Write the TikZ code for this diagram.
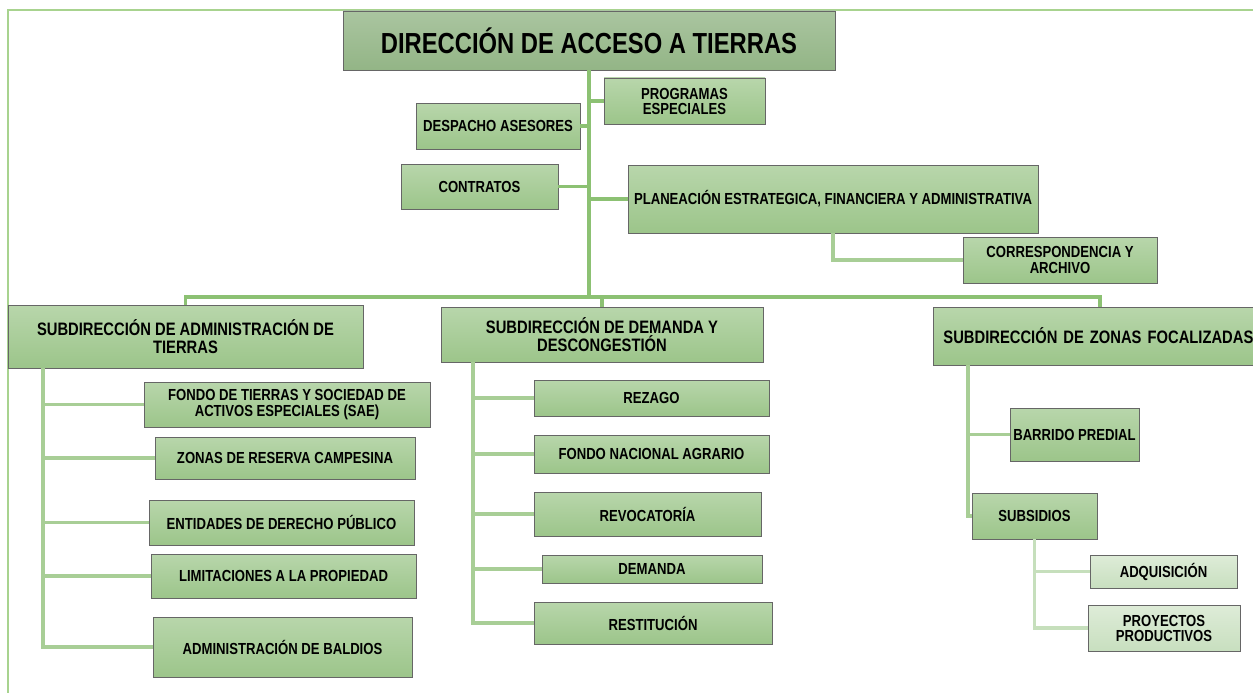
\documentclass[tikz,border=0pt]{standalone}
\usepackage{fontspec}
\setmainfont{Liberation Sans}[FakeStretch=0.82]
\usetikzlibrary{calc}
\definecolor{boxtop}{RGB}{184,214,171}
\definecolor{boxbot}{RGB}{156,197,138}
\definecolor{maintop}{RGB}{170,197,160}
\definecolor{mainbot}{RGB}{147,181,134}
\definecolor{lighttop}{RGB}{222,236,216}
\definecolor{lightbot}{RGB}{200,223,191}
\definecolor{framecol}{RGB}{168,211,143}
\definecolor{trunkcol}{RGB}{140,193,115}
\definecolor{linkcol}{RGB}{168,206,150}
\definecolor{paledlink}{RGB}{198,223,188}
\newcommand\fontbig{\fontsize{29}{30}\selectfont\bfseries}
\newcommand\fontsubd{\fontsize{18}{18}\selectfont\bfseries}
\newcommand\fontsm{\fontsize{16}{16}\selectfont\bfseries}
\newcommand\fontsmtight{\fontsize{16}{15}\selectfont\bfseries}
\begin{document}
\begin{tikzpicture}[x=1pt,y=-1pt,
  box/.style={draw=black!60, line width=0.9pt, top color=boxtop, bottom color=boxbot,
              inner sep=0pt, align=center, font=\fontsm},
  mainbox/.style={box, top color=maintop, bottom color=mainbot, font=\fontbig},
  subbox/.style={box, font=\fontsubd},
  lightbox/.style={box, top color=lighttop, bottom color=lightbot},
  trunk/.style={draw=trunkcol, line width=3.2pt},
  link/.style={draw=linkcol, line width=3.4pt},
  palelink/.style={draw=paledlink, line width=3.4pt},
  frameline/.style={draw=framecol, line width=2.6pt}]
\useasboundingbox (0,0) rectangle (1253,693);
\fill[white] (0,0) rectangle (1253,693);
% frame
\draw[frameline] (1260,10) -- (8,10) -- (8,700);

% helper coordinates
\coordinate (bus) at (589,297);
\coordinate (zdrop) at (1100,307);
\coordinate (a0) at (43,368);
\coordinate (d0) at (473,362);
\coordinate (z0) at (968,365);

% top level
\node[mainbox, minimum width=492pt, minimum height=59pt] (main) at (589,40.5) {DIRECCIÓN DE ACCESO A TIERRAS};
\node[box, font=\fontsmtight, minimum width=161pt, minimum height=46pt] (prog) at (684.5,101) {PROGRAMAS\\ESPECIALES};
\node[box, minimum width=164pt, minimum height=46pt] (desp) at (498,126) {DESPACHO ASESORES};
\node[box, minimum width=157pt, minimum height=45pt] (contr) at (479.5,186.5) {CONTRATOS};
\node[box, minimum width=410pt, minimum height=68pt] (plan) at (833,199) {PLANEACIÓN ESTRATEGICA, FINANCIERA Y ADMINISTRATIVA};
\node[box, font=\fontsm, minimum width=194pt, minimum height=46pt] (corr) at (1060,260) {CORRESPONDENCIA Y\\ARCHIVO};

% subdirections
\node[subbox, minimum width=355pt, minimum height=63pt] (sadm) at (185.5,336.5) {SUBDIRECCIÓN DE ADMINISTRACIÓN DE\\TIERRAS};
\node[subbox, minimum width=322pt, minimum height=55pt] (sdem) at (602,334.5) {SUBDIRECCIÓN DE DEMANDA Y\\DESCONGESTIÓN};
\node[subbox, anchor=west, text width=320pt, align=left, inner xsep=10pt, minimum height=58pt] (szon) at (933,336) {SUBDIRECCIÓN DE ZONAS FOCALIZADAS};

% administración children
\node[box, font=\fontsm, minimum width=286pt, minimum height=45pt] (fondo) at (287,404.5) {FONDO DE TIERRAS Y SOCIEDAD DE\\ACTIVOS ESPECIALES (SAE)};
\node[box, minimum width=260pt, minimum height=42pt] (zrc) at (285,458) {ZONAS DE RESERVA CAMPESINA};
\node[box, minimum width=265pt, minimum height=45pt] (ent) at (281.5,522.5) {ENTIDADES DE DERECHO PÚBLICO};
\node[box, minimum width=265pt, minimum height=44pt] (lim) at (283.5,576) {LIMITACIONES A LA PROPIEDAD};
\node[box, minimum width=259pt, minimum height=60pt] (bald) at (282.5,647) {ADMINISTRACIÓN DE BALDIOS};

% demanda children
\node[box, minimum width=235pt, minimum height=36pt] (rez) at (651.5,398) {REZAGO};
\node[box, minimum width=235pt, minimum height=38pt] (fna) at (651.5,454) {FONDO NACIONAL AGRARIO};
\node[box, minimum width=227pt, minimum height=44pt] (rev) at (647.5,514) {REVOCATORÍA};
\node[box, minimum width=220pt, minimum height=28pt] (dem) at (652,569) {DEMANDA};
\node[box, minimum width=238pt, minimum height=42pt] (rest) at (653,623) {RESTITUCIÓN};

% zonas children
\node[box, minimum width=129pt, minimum height=53pt] (barr) at (1074.5,434.5) {BARRIDO PREDIAL};
\node[box, minimum width=125pt, minimum height=46pt] (subs) at (1034.5,516) {SUBSIDIOS};
\node[lightbox, minimum width=147pt, minimum height=33pt] (adq) at (1163.5,571.5) {ADQUISICIÓN};
\node[lightbox, font=\fontsmtight, minimum width=152pt, minimum height=46pt] (proy) at (1164,628) {PROYECTOS\\PRODUCTIVOS};

% connectors
\draw[trunk] (main.south) -- (bus);
\draw[trunk] (prog.west -| main.south) -- (prog.west);
\draw[trunk] (desp.east) -- (desp.east -| main.south);
\draw[trunk] (contr.east) -- (contr.east -| main.south);
\draw[trunk] (plan.west -| main.south) -- (plan.west);
\draw[link] (plan.south) |- (corr.west);
\draw[trunk] (sadm.north) |- (bus) -| (zdrop);
\draw[trunk] (bus -| sdem.north) -- (sdem.north);

\draw[link] (a0) |- (bald.west);
\draw[link] (fondo.west -| a0) -- (fondo.west);
\draw[link] (zrc.west -| a0) -- (zrc.west);
\draw[link] (ent.west -| a0) -- (ent.west);
\draw[link] (lim.west -| a0) -- (lim.west);

\draw[link] (d0) |- (rest.west);
\draw[link] (rez.west -| d0) -- (rez.west);
\draw[link] (fna.west -| d0) -- (fna.west);
\draw[link] (rev.west -| d0) -- (rev.west);
\draw[link] (dem.west -| d0) -- (dem.west);

\draw[link] (z0) |- (subs.west);
\draw[link] (barr.west -| z0) -- (barr.west);

\draw[palelink] (subs.south) |- (proy.west);
\draw[palelink] (adq.west -| subs.south) -- (adq.west);
\end{tikzpicture}
\end{document}
